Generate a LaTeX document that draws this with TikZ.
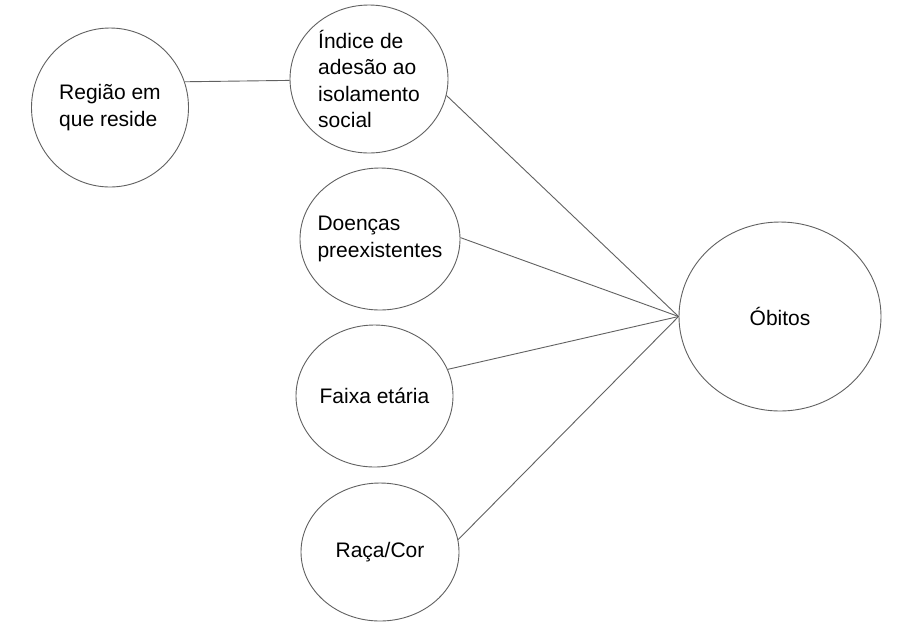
\documentclass[tikz,border=0pt]{standalone}
\usepackage{fontspec}
\setmainfont{Liberation Sans}
\usetikzlibrary{shapes.geometric}
\begin{document}
\begin{tikzpicture}[x=1pt,y=-1pt,
  circ/.style={ellipse,draw=black!62,line width=0.9pt,inner sep=-12pt,align=left,
    font=\fontsize{21pt}{26.5pt}\selectfont},
  link/.style={draw=black!62,line width=0.9pt}]
\useasboundingbox[fill=white] (0,0) rectangle (909,633);
\node[circ,minimum width=157pt,minimum height=159pt] (reg) at (110,107.5) {Região em\\que reside};
\node[circ,minimum width=158pt,minimum height=148pt] (idx) at (369,79) {Índice de\\adesão ao\\isolamento\\social};
\node[circ,minimum width=160pt,minimum height=142pt] (doe) at (380,239) {Doenças\\preexistentes};
\node[circ,minimum width=157pt,minimum height=142pt] (fai) at (374.5,396) {Faixa etária};
\node[circ,minimum width=158pt,minimum height=138pt] (rac) at (380,552) {Raça/Cor};
\node[circ,minimum width=202pt,minimum height=189pt] (obi) at (780,316.5) {Óbitos};
\draw[link] (reg.19) -- (idx.181);
\draw[link] (idx.-12) -- (obi.west);
\draw[link] (doe.1) -- (obi.west);
\draw[link] (fai.20) -- (obi.west);
\draw[link] (rac.9) -- (obi.west);
\end{tikzpicture}
\end{document}
